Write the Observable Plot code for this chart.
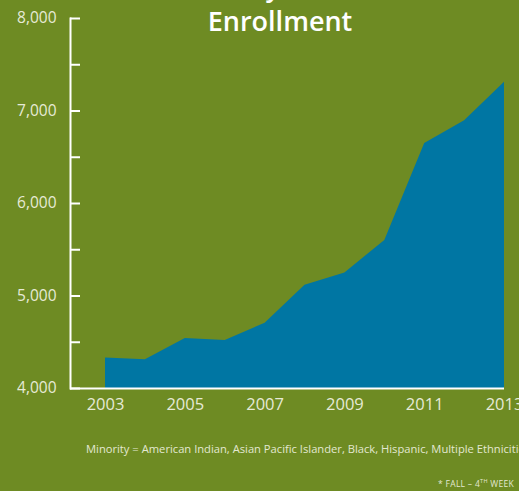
<!DOCTYPE html>
<html><head><meta charset="utf-8">
<script src="https://cdn.jsdelivr.net/npm/d3@7"></script>
<script src="https://cdn.jsdelivr.net/npm/@observablehq/plot@0.6"></script>
<style>
html,body{margin:0;padding:0;}
body{width:519px;height:491px;background:#6e8b23;overflow:hidden;position:relative;font-family:"Open Sans",sans-serif;}
.title{position:absolute;left:0;width:560px;text-align:center;color:#fff;font-size:27px;font-weight:600;line-height:31px;white-space:nowrap;}
#t1{top:-29px;line-height:29px;}
#t2{top:5px;}
#chart{position:absolute;left:0;top:0;}
#note{position:absolute;left:86px;top:441px;white-space:nowrap;color:#e3e8d2;font-size:11.2px;}
#foot{position:absolute;right:5px;top:477px;white-space:nowrap;color:#e3e8d2;font-size:8.5px;letter-spacing:0.3px;}
#foot sup{font-size:5.5px;}
</style></head>
<body>
<div id="chart"></div>
<div class="title" id="t1">Minority Student</div>
<div class="title" id="t2">Enrollment</div>
<div id="note">Minority = American Indian, Asian Pacific Islander, Black, Hispanic, Multiple Ethnicities</div>
<div id="foot">* FALL – 4<sup>TH</sup> WEEK</div>
<script>
const years = [2003,2004,2005,2006,2007,2008,2009,2010,2011,2012,2013];
const enrollment = [4330,4310,4540,4520,4705,5115,5250,5600,6650,6895,7310];
const yTickValues = [4000,5000,6000,7000,8000];
const yMinorTicks = [4000,4500,5000,5500,6000,6500,7000,7500,8000];
const xTickValues = [2003,2005,2007,2009,2011,2013];

const data = years.map((y,i)=>({year:y, value:enrollment[i]}));
const plot = Plot.plot({
  width:519, height:420,
  marginTop:18, marginBottom:32, marginLeft:70, marginRight:15,
  style:{background:"transparent", fontFamily:"Open Sans, sans-serif", fontSize:"15px", color:"#e6ead6"},
  x:{domain:[2003,2013], insetLeft:35, label:null},
  y:{domain:[4000,8000], label:null},
  marks:[
    Plot.areaY(data,{x:"year", y1:4000, y2:"value", fill:"#0076a3"}),
    Plot.frame({anchor:"left", stroke:"#fff", strokeWidth:2}),
    Plot.ruleY([4000],{stroke:"#fff", strokeWidth:2}),
    Plot.axisY({ticks:yMinorTicks, tickSize:-10, tickFormat:()=>"", stroke:"#fff", strokeWidth:2}),
    Plot.axisY({ticks:yTickValues, tickSize:0, tickPadding:14, tickFormat:d3.format(","), fill:"#e6ead6", fontSize:15.5}),
    Plot.axisX({ticks:xTickValues, tickSize:0, tickPadding:10, tickFormat:d=>String(d), fill:"#e6ead6", fontSize:16.5})
  ]
});
document.getElementById("chart").appendChild(plot);
</script>
</body></html>
